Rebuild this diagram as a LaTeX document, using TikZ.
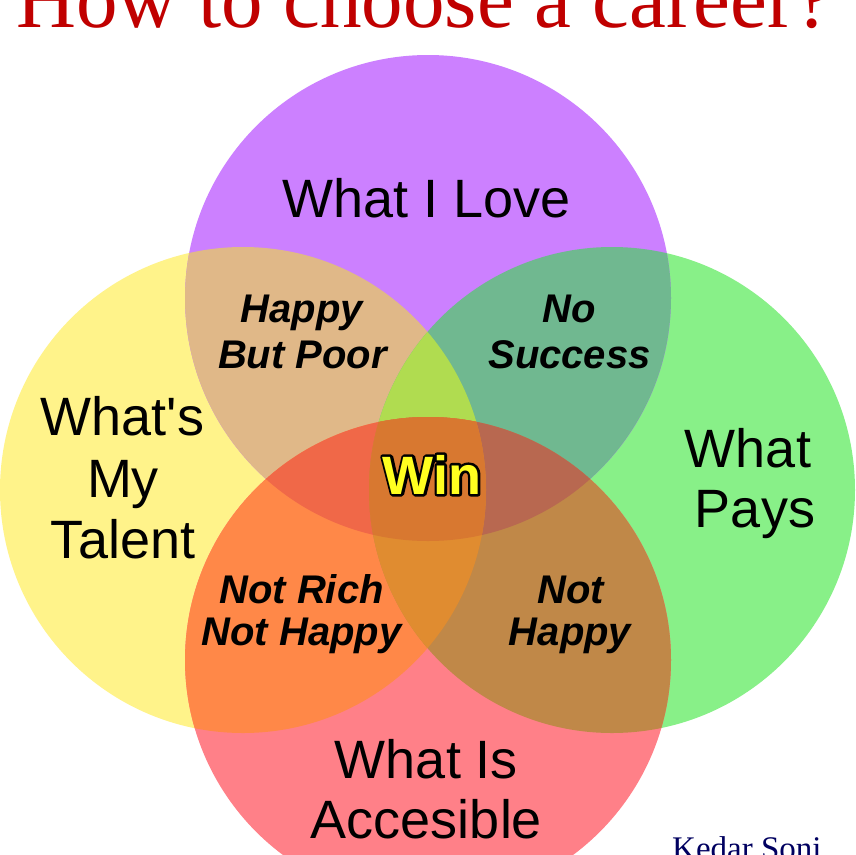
\documentclass[tikz,border=0pt]{standalone}
\usepackage{fontspec}
\setmainfont{Liberation Sans}
\newfontfamily\ttlserif{Liberation Serif}
\definecolor{cP}{HTML}{CC80FF}
\definecolor{cY}{HTML}{FFF38A}
\definecolor{cG}{HTML}{88F088}
\definecolor{cR}{HTML}{FF8088}
\definecolor{cPY}{HTML}{E0B888}
\definecolor{cPG}{HTML}{70B890}
\definecolor{cYR}{HTML}{FF8848}
\definecolor{cGR}{HTML}{C08848}
\definecolor{cPYG}{HTML}{B0DC50}
\definecolor{cPYR}{HTML}{F06848}
\definecolor{cPGR}{HTML}{B86850}
\definecolor{cYGR}{HTML}{E08C30}
\definecolor{cAll}{HTML}{D87830}
\definecolor{ttlred}{HTML}{C00000}
\definecolor{navyname}{HTML}{000060}
\definecolor{winyellow}{HTML}{FFFF20}
\newcommand\strokeonly[1]{\special{pdf:literal direct 0 G 1 Tr 5 w 1 j}#1\special{pdf:literal direct 0 Tr}}
\tikzset{
  biglbl/.style={font=\fontsize{54}{60}\selectfont, anchor=base, inner sep=0pt, text=black},
  sublbl/.style={font=\fontsize{40}{46}\selectfont\bfseries\itshape, anchor=base, inner sep=0pt, text=black},
}
\def\circP{(428,298) circle[radius=243pt]}
\def\circY{(243,490) circle[radius=243pt]}
\def\circG{(612,490) circle[radius=243pt]}
\def\circR{(428,660) circle[radius=243pt]}
\begin{document}
\begin{tikzpicture}[x=1pt,y=-1pt]
\useasboundingbox (0,0) rectangle (855,855);
\clip (0,0) rectangle (855,855);
\fill[white] (0,0) rectangle (855,855);
% single circles
\fill[cY] \circY;
\fill[cG] \circG;
\fill[cP] \circP;
\fill[cR] \circR;
% pairs
\begin{scope}\clip \circP; \fill[cPY] \circY; \fill[cPG] \circG; \end{scope}
\begin{scope}\clip \circR; \fill[cYR] \circY; \fill[cGR] \circG; \end{scope}
% triples
\begin{scope}\clip \circP; \clip \circY; \fill[cPYG] \circG; \fill[cPYR] \circR; \end{scope}
\begin{scope}\clip \circG; \clip \circR; \fill[cPGR] \circP; \fill[cYGR] \circY; \end{scope}
% all four
\begin{scope}\clip \circP; \clip \circY; \clip \circG; \fill[cAll] \circR; \end{scope}
% title and signature
\node[anchor=base, inner sep=0pt, text=ttlred, font=\ttlserif\fontsize{83}{90}\selectfont] (title) at (424,27) {How to choose a career?};
\node[anchor=base west, inner sep=0pt, text=navyname, font=\ttlserif\fontsize{33}{38}\selectfont] (author) at (672,859) {Kedar Soni};
% circle labels
\node[biglbl] (love) at (426.5,217) {What I Love};
\node[biglbl] (tal1) at (122.5,435) {What\textquotesingle s};
\node[biglbl] (tal2) at (123,497) {My};
\node[biglbl] (tal3) at (123,558) {Talent};
\node[biglbl] (pay1) at (748,467) {What};
\node[biglbl] (pay2) at (755,527) {Pays};
\node[biglbl] (acc1) at (426.5,778) {What Is};
\node[biglbl] (acc2) at (426.5,838) {Accesible};
% overlap labels
\node[sublbl] (hp1) at (302,322) {Happy};
\node[sublbl] (hp2) at (302.5,368) {But Poor};
\node[sublbl] (ns1) at (569.5,322) {No};
\node[sublbl] (ns2) at (569.5,368) {Success};
\node[sublbl] (nr1) at (301.5,603) {Not Rich};
\node[sublbl] (nr2) at (301.5,645) {Not Happy};
\node[sublbl] (nh1) at (570.5,603) {Not};
\node[sublbl] (nh2) at (570,645) {Happy};
\node[anchor=base, inner sep=0pt, text=winyellow, font=\fontsize{54}{60}\selectfont\bfseries] (win) at (432,494) {\rlap{\strokeonly{Win}}Win};
\end{tikzpicture}
\end{document}
